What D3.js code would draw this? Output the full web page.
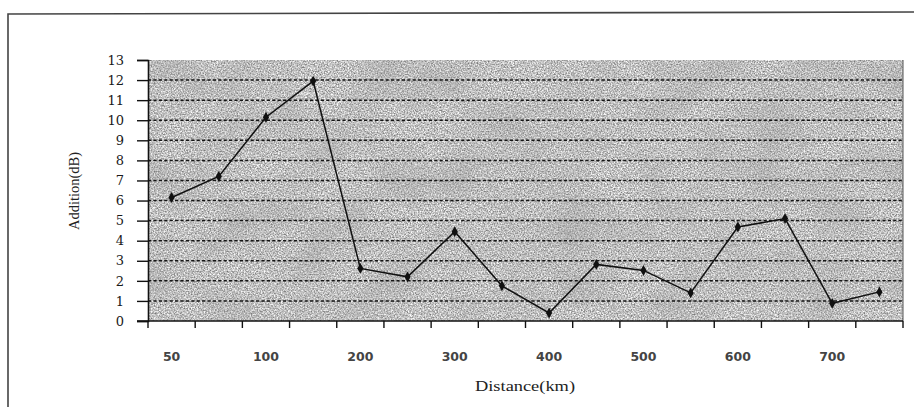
<!DOCTYPE html>
<html>
<head>
<meta charset="utf-8">
<script src="https://cdn.jsdelivr.net/npm/d3@7"></script>
<style>
  html, body { margin: 0; padding: 0; background: #fff; }
  svg { display: block; }
</style>
</head>
<body>
<svg id="chart" width="914" height="407"></svg>
<script>
// Distance categories (km) and the measured addition (dB) at each
const categories = ["50", "75", "100", "150", "200", "250", "300", "350",
                    "400", "450", "500", "550", "600", "650", "700", "750"];
const addition = [6.15, 7.2, 10.15, 11.95, 2.62, 2.2, 4.45, 1.75,
                  0.4, 2.82, 2.52, 1.4, 4.68, 5.1, 0.88, 1.45];
// Category labels printed under the axis (every second one)
const xTickLabels = ["50", "100", "200", "300", "400", "500", "600", "700"];
// Value axis ticks
const yTicks = d3.range(0, 14);
const gridValues = d3.range(1, 13);

const svg = d3.select("#chart");
const plot = { left: 148, right: 903, top: 60, bottom: 321 };

const x = d3.scaleBand().domain(categories).range([plot.left, plot.right]);
const y = d3.scaleLinear().domain([0, 13]).range([plot.bottom, plot.top]);

// grainy grey fill of the plotting area
const defs = svg.append("defs");
const grain = defs.append("filter").attr("id", "grain")
  .attr("x", 0).attr("y", 0).attr("width", 1).attr("height", 1)
  .attr("color-interpolation-filters", "sRGB");
grain.append("feTurbulence").attr("type", "fractalNoise")
  .attr("baseFrequency", 0.7).attr("numOctaves", 2).attr("seed", 7).attr("result", "fine");
grain.append("feColorMatrix").attr("in", "fine").attr("type", "matrix")
  .attr("values", "0.9 0 0 0 0.31  0.9 0 0 0 0.31  0.9 0 0 0 0.31  0 0 0 0 1")
  .attr("result", "fineGrey");
grain.append("feGaussianBlur").attr("in", "fineGrey").attr("stdDeviation", 0.35).attr("result", "soft");
grain.append("feTurbulence").attr("type", "fractalNoise")
  .attr("baseFrequency", 0.02).attr("numOctaves", 2).attr("seed", 11).attr("result", "coarse");
grain.append("feColorMatrix").attr("in", "coarse").attr("type", "matrix")
  .attr("values", "0 0 0 0 0.6  0 0 0 0 0.6  0 0 0 0 0.6  0.7 0 0 0 -0.25")
  .attr("result", "blot");
grain.append("feComposite").attr("in", "blot").attr("in2", "soft").attr("operator", "over");

// outer frame (top and left edges visible)
svg.append("path")
  .attr("d", "M8,407 L8,14 L914,12")
  .attr("fill", "none").attr("stroke", "#444").attr("stroke-width", 1.6);

svg.append("rect")
  .attr("x", plot.left).attr("y", plot.top)
  .attr("width", plot.right - plot.left).attr("height", plot.bottom - plot.top)
  .attr("fill", "#bcbcbc")
  .attr("filter", "url(#grain)");

// dashed gridlines
svg.append("g").selectAll("line").data(gridValues).join("line")
  .attr("x1", plot.left).attr("x2", plot.right)
  .attr("y1", d => y(d)).attr("y2", d => y(d))
  .attr("stroke", "#151515").attr("stroke-width", 1.5)
  .attr("stroke-dasharray", "3.2,2.2");

// right edge of plot area
svg.append("line")
  .attr("x1", plot.right).attr("x2", plot.right)
  .attr("y1", plot.top).attr("y2", plot.bottom)
  .attr("stroke", "#555").attr("stroke-width", 1);

// value axis
const yAxis = svg.append("g")
  .attr("transform", `translate(${plot.left},0)`)
  .call(d3.axisLeft(y).tickValues(yTicks).tickSize(11).tickPadding(13).tickFormat(d3.format("d")));
yAxis.select(".domain").attr("stroke", "#111").attr("stroke-width", 1.6);
yAxis.selectAll(".tick line").attr("stroke", "#111").attr("stroke-width", 1.4);
yAxis.selectAll("text")
  .attr("font-family", "'DejaVu Serif', serif")
  .attr("font-size", 13).attr("fill", "#1a1a1a");

// category axis: tick marks at category boundaries
const boundaries = categories.map(c => x(c)).concat([plot.right]);
svg.append("line")
  .attr("x1", plot.left - 11).attr("x2", plot.right)
  .attr("y1", plot.bottom).attr("y2", plot.bottom)
  .attr("stroke", "#111").attr("stroke-width", 1.6);
svg.append("g").selectAll("line").data(boundaries).join("line")
  .attr("x1", d => d).attr("x2", d => d)
  .attr("y1", plot.bottom).attr("y2", plot.bottom + 7)
  .attr("stroke", "#111").attr("stroke-width", 1.4);

const xAxis = svg.append("g")
  .attr("transform", `translate(0,${plot.bottom})`)
  .call(d3.axisBottom(x).tickSize(0).tickPadding(31)
    .tickFormat(d => xTickLabels.includes(d) ? d : ""));
xAxis.select(".domain").remove();
xAxis.selectAll("text")
  .attr("font-family", "'DejaVu Sans', Verdana, sans-serif")
  .attr("font-size", 12.5).attr("font-weight", "bold").attr("fill", "#444");

// the series line with diamond markers
const line = d3.line()
  .x((d, i) => x(categories[i]) + x.bandwidth() / 2)
  .y(d => y(d));
svg.append("path").datum(addition)
  .attr("d", line)
  .attr("fill", "none").attr("stroke", "#111").attr("stroke-width", 1.5);
svg.append("g").selectAll("path").data(addition).join("path")
  .attr("d", d3.symbol().type(d3.symbolDiamond).size(34))
  .attr("transform", (d, i) => `translate(${x(categories[i]) + x.bandwidth() / 2},${y(d)})`)
  .attr("fill", "#111");

// axis titles
svg.append("text")
  .attr("x", 525).attr("y", 391)
  .attr("text-anchor", "middle")
  .attr("font-family", "'Liberation Serif', serif")
  .attr("font-size", 15).attr("fill", "#222")
  .attr("textLength", 100).attr("lengthAdjust", "spacingAndGlyphs")
  .text("Distance(km)");
svg.append("text")
  .attr("transform", "translate(79,191) rotate(-90)")
  .attr("text-anchor", "middle")
  .attr("font-family", "'Liberation Serif', serif")
  .attr("font-size", 15).attr("fill", "#222")
  .attr("textLength", 78).attr("lengthAdjust", "spacingAndGlyphs")
  .text("Addition(dB)");
</script>
</body>
</html>
